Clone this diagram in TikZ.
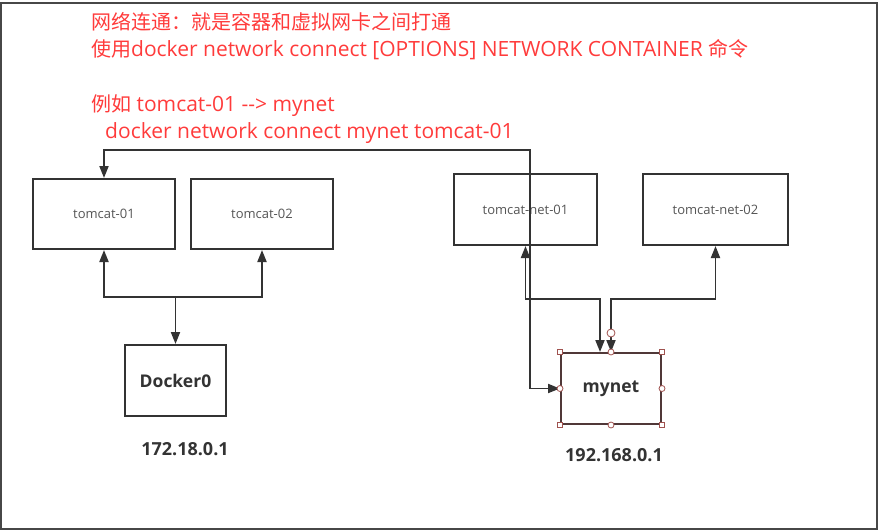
\documentclass[tikz,border=0pt]{standalone}
\usepackage{fontspec}
\setmainfont{Open Sans}
\newfontfamily\cjk{Noto Sans CJK SC}[Scale=0.952]
\usetikzlibrary{arrows.meta, positioning}
\definecolor{notered}{HTML}{FF3B3B}
\definecolor{linegray}{HTML}{333333}
\definecolor{textgray}{HTML}{555555}
\definecolor{selborder}{HTML}{503838}
\definecolor{handlered}{HTML}{A0524F}
\tikzset{
	boxnode/.style={
			rectangle,
			draw=linegray,
			line width=2pt,
			minimum width=142pt,
			minimum height=70pt,
			inner sep=0pt,
			text=textgray,
			font=\fontsize{13}{15}\selectfont
		},
	bridgenode/.style={
			boxnode,
			minimum width=101pt,
			minimum height=71pt,
			text=linegray,
			font=\fontsize{17.5}{20}\selectfont\bfseries
		},
	selnode/.style={
			bridgenode,
			draw=selborder,
			minimum width=100pt
		},
	notetext/.style={
			anchor=west,
			inner sep=0pt,
			text=notered,
			font=\fontsize{21}{24}\selectfont
		},
	iptext/.style={
			inner sep=0pt,
			text=linegray,
			font=\fontsize{18}{21}\selectfont\bfseries
		},
	conn/.style={
			draw=linegray,
			line width=1.9pt
		},
	handlesq/.style={
			rectangle,
			draw=handlered,
			fill=white,
			line width=0.8pt,
			minimum size=5.5pt,
			inner sep=0pt
		},
	handlecirc/.style={
			circle,
			draw=handlered,
			fill=white,
			line width=0.8pt,
			minimum size=6pt,
			inner sep=0pt
		}
}
\begin{document}
\begin{tikzpicture}[x=1pt, y=-1pt, >={Triangle[length=12pt,width=9pt]}]
\useasboundingbox (0,0) rectangle (878,531);
\draw[draw=linegray!90, line width=1.8pt] (1,3) rectangle (877,529);

% notes
\node[notetext] (note1) at (91,22)  {\cjk 网络连通：就是容器和虚拟网卡之间打通};
\node[notetext] (note2) at (91,50)  {{\cjk 使用}docker network connect [OPTIONS] NETWORK CONTAINER {\cjk 命令}};
\node[notetext] (note3) at (91,106) {{\cjk 例如} tomcat-01 -{}-> mynet};
\node[notetext] (note4) at (105,133) {docker network connect mynet tomcat-01};

% docker0 side
\node[boxnode] (tc1) at (104,214)  { tomcat-01 };
\node[boxnode] (tc2) at (262,214)  { tomcat-02 };
\node[bridgenode] (dk0) at (175.5,380.5)  { Docker0 };
\node[iptext] (ip1) at (185,449)  { 172.18.0.1 };

% mynet side
\node[boxnode, minimum width=143pt, minimum height=71pt] (tn1) at (525.5,209.5)  { tomcat-net-01 };
\node[boxnode, minimum width=145pt, minimum height=71pt] (tn2) at (715.5,209.5)  { tomcat-net-02 };
\node[selnode] (mynet) at (611,388.5)  { mynet };
\node[iptext] (ip2) at (614,455)  { 192.168.0.1 };

\coordinate (jdock) at (175.5,297);
\coordinate (jtop) at (530,150);
\coordinate (jnet1) at (600,299);
\coordinate (jnet2) at (611,299);

\draw[conn, <->] (tc1.south) |- (jdock) -| (tc2.south);
\draw[conn, ->] (jdock) -- (dk0.north);

\draw[conn, <->] (tn1.south) |- (jnet1) -- (jnet1 |- mynet.north);
\draw[conn, <->] (tn2.south) |- (jnet2) -- (jnet2 |- mynet.north);

\draw[conn, <->] (tc1.north) |- (jtop) |- (mynet.west);

% selection handles
\foreach \a in {north west, north east, south west, south east}
  \node[handlesq] at (mynet.\a) {};
\foreach \a in {north, south, east, west}
  \node[handlecirc] at (mynet.\a) {};
\node[handlecirc, minimum size=8pt] (endh) at (611,333) {};
\end{tikzpicture}
\end{document}
